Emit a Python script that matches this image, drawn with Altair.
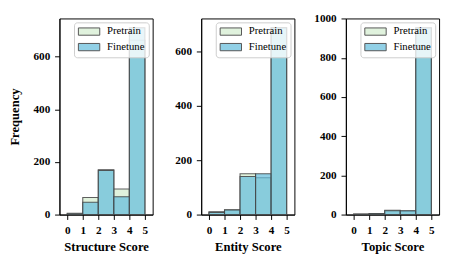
import altair as alt
import pandas as pd

bin_start = [0, 1, 2, 3, 4]
bin_end = [1, 2, 3, 4, 5]
series = ["Pretrain", "Finetune"]

structure_pretrain = [5, 65, 170, 97, 663]
structure_finetune = [3, 47, 168, 68, 710]
entity_pretrain = [10, 18, 150, 135, 686]
entity_finetune = [8, 17, 140, 150, 686]
topic_pretrain = [3, 5, 22, 18, 952]
topic_finetune = [2, 5, 20, 20, 953]

panel_titles = ["Structure Score", "Entity Score", "Topic Score"]
y_ticks = [[0, 200, 400, 600], [0, 200, 400, 600], [0, 200, 400, 600, 800, 1000]]
x_ticks = [0, 1, 2, 3, 4, 5]

FONT = "Liberation Serif"
colors = ["#E0F2DD", "rgba(98,188,219,0.7)"]


def panel(pre, fine, title, ticks, show_ytitle):
    rows = []
    for k, (name, vals) in enumerate(zip(series, [pre, fine])):
        for s, e, v in zip(bin_start, bin_end, vals):
            rows.append({"start": s, "end": e, "count": v, "base": 0,
                         "series": name, "ord": k})
    df = pd.DataFrame(rows)
    ymax = max(pre + fine) * 1.05
    yaxis_kwargs = dict(values=ticks, minExtent=30, maxExtent=30, tickSize=5,
                        labelPadding=5, titlePadding=9, format="d")
    ytitle = "Frequency" if show_ytitle else None
    return alt.Chart(df).mark_bar(
        stroke="#444444", strokeWidth=1.1, strokeOpacity=0.85
    ).encode(
        x=alt.X("start:Q", title=title,
                scale=alt.Scale(domain=[-0.5, 5.5], nice=False, zero=False),
                axis=alt.Axis(values=x_ticks, tickSize=5, labelPadding=5, titlePadding=6)),
        x2="end:Q",
        y=alt.Y("count:Q", title=ytitle,
                scale=alt.Scale(domain=[0, ymax], nice=False),
                axis=alt.Axis(**yaxis_kwargs)),
        y2="base:Q",
        color=alt.Color("series:N",
                        scale=alt.Scale(domain=series, range=colors),
                        legend=alt.Legend(
                            title=None, orient="top-right", offset=4,
                            fillColor="rgba(255,255,255,0.8)", strokeColor="#cccccc",
                            cornerRadius=3, padding=4,
                            symbolType="M-2.2,-0.75L2.2,-0.75L2.2,0.75L-2.2,0.75Z",
                            symbolSize=100, symbolOffset=6, symbolStrokeColor="#555555",
                            symbolStrokeWidth=1, labelFont=FONT, labelFontSize=11,
                            labelColor="black", rowPadding=3, labelOffset=13)),
        order=alt.Order("ord:Q"),
    ).properties(width=96, height=202)


chart = alt.hconcat(
    panel(structure_pretrain, structure_finetune, panel_titles[0], y_ticks[0], True),
    panel(entity_pretrain, entity_finetune, panel_titles[1], y_ticks[1], False),
    panel(topic_pretrain, topic_finetune, panel_titles[2], y_ticks[2], False),
    spacing=18,
).resolve_scale(
    x="independent", y="independent", color="independent"
).resolve_legend(
    color="independent"
).properties(
    padding={"left": 0, "top": 0, "right": 2, "bottom": 2}
).configure_view(
    stroke="black", strokeWidth=1
).configure_axis(
    grid=False, domainColor="black", tickColor="black", labelColor="black",
    titleColor="black", labelFont=FONT, titleFont=FONT, labelFontWeight="bold",
    titleFontWeight="bold", labelFontSize=11.5, titleFontSize=13,
)

chart.save("out.html", embed_options={"renderer": "svg", "actions": False})
